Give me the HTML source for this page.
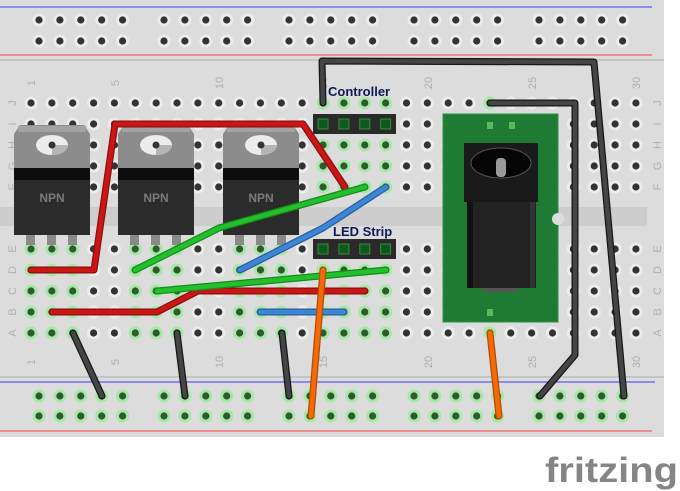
<!DOCTYPE html>
<html><head><meta charset="utf-8"><style>
html,body{margin:0;padding:0;background:#fff;width:680px;height:491px;overflow:hidden}
svg{display:block}
</style></head><body>
<svg id="s" width="680" height="491" viewBox="0 0 680 491" xmlns="http://www.w3.org/2000/svg" font-family="Liberation Sans, sans-serif">
<rect x="0" y="0" width="664" height="437" fill="#dcdcdc"/>
<line x1="0" y1="7" x2="652" y2="7" stroke="#3a3aff" stroke-width="1"/>
<line x1="0" y1="55" x2="652" y2="55" stroke="#ff4040" stroke-width="1"/>
<line x1="0" y1="60" x2="664" y2="60" stroke="#bdbdbd" stroke-width="1.5"/>
<line x1="0" y1="377" x2="664" y2="377" stroke="#bdbdbd" stroke-width="1.5"/>
<line x1="0" y1="382" x2="655" y2="382" stroke="#3a3aff" stroke-width="1"/>
<line x1="0" y1="431" x2="652" y2="431" stroke="#ff4040" stroke-width="1"/>
<rect x="0" y="207" width="647" height="19" fill="#cdcdcd"/>
<g id="holes"></g>
<g font-size="11" fill="#b0b0b0" text-anchor="middle">
<text transform="translate(35,83) rotate(-90)">1</text>
<text transform="translate(119,83) rotate(-90)">5</text>
<text transform="translate(223,83) rotate(-90)">10</text>
<text transform="translate(327,83) rotate(-90)">15</text>
<text transform="translate(432,83) rotate(-90)">20</text>
<text transform="translate(536,83) rotate(-90)">25</text>
<text transform="translate(640,83) rotate(-90)">30</text>
<text transform="translate(35,362) rotate(-90)">1</text>
<text transform="translate(119,362) rotate(-90)">5</text>
<text transform="translate(223,362) rotate(-90)">10</text>
<text transform="translate(327,362) rotate(-90)">15</text>
<text transform="translate(432,362) rotate(-90)">20</text>
<text transform="translate(536,362) rotate(-90)">25</text>
<text transform="translate(640,362) rotate(-90)">30</text>
</g>
<g id="letters" font-size="11" fill="#b0b0b0" text-anchor="middle"></g>

<g id="tr"></g>

<rect x="443" y="114" width="115" height="208" fill="#1f7b34" stroke="#2a9440" stroke-width="1"/>
<circle cx="558" cy="219" r="6" fill="#dcdcdc"/>
<rect x="487" y="122" width="6" height="7" fill="#5cb85c"/><rect x="509" y="122" width="6" height="7" fill="#5cb85c"/>
<rect x="487" y="309" width="6" height="7" fill="#5cb85c"/>
<rect x="464" y="143" width="74" height="59" fill="#1a1a1a"/>
<ellipse cx="501" cy="163" rx="30" ry="15" fill="#050505" stroke="#555" stroke-width="1"/>
<rect x="496" y="158" width="10" height="19" rx="4" fill="#9a9a9a"/>
<rect x="467" y="202" width="69" height="86" fill="#222"/>
<rect x="467" y="202" width="6" height="86" fill="#111"/>
<rect x="530" y="202" width="5" height="86" fill="#333"/>
<rect x="483" y="288" width="34" height="4" fill="#555"/>

<g id="hdr"></g>
<text x="328" y="96" font-size="13" font-weight="bold" fill="#0e1a55">Controller</text>
<text x="333" y="236" font-size="13" font-weight="bold" fill="#0e1a55">LED Strip</text>

<g id="wires" fill="none" stroke-linecap="round" stroke-linejoin="round"></g>

<text x="545" y="482" font-size="35" font-weight="bold" fill="#858585" textLength="133" lengthAdjust="spacingAndGlyphs">fritzing</text>
</svg>
<script>
var NS="http://www.w3.org/2000/svg";
function el(p,t,a){var e=document.createElementNS(NS,t);for(var k in a)e.setAttribute(k,a[k]);p.appendChild(e);return e;}
var H=document.getElementById('holes');
function cx(c){return 31+(c-1)*20.86;}
var rowsTop=[103,124,145,166,187],rowsBot=[249,270,291,312,333];
function hole(x,y,g){
 el(H,'circle',{cx:x,cy:y,r:6.5,fill:g?'#a6e8a6':'#ececec'});
 el(H,'circle',{cx:x,cy:y,r:3.6,fill:g?'#2f5a2f':'#333'});
}
for(var c=1;c<=30;c++){
 for(var r=0;r<5;r++){
  var gt=(c>=15&&c<=18)||(c==23&&r==0);
  hole(cx(c),rowsTop[r],gt);
  var gb=[1,2,3,6,7,8,11,12,13,15,16,17,18].indexOf(c)>=0||(c==23&&r==4);
  hole(cx(c),rowsBot[r],gb);
 }
}
var gs=[39,164,289,414,539];
gs.forEach(function(g){for(var i=0;i<5;i++){var x=g+i*20.9;
 hole(x,20,false);hole(x,41,false);hole(x,396,true);hole(x,416,true);}});
var L=document.getElementById('letters');
"JIHGF".split('').forEach(function(l,i){[12,657].forEach(function(x){var t=el(L,'text',{transform:'translate('+(x+4)+','+rowsTop[i]+') rotate(-90)'});t.textContent=l;});});
"EDCBA".split('').forEach(function(l,i){[12,657].forEach(function(x){var t=el(L,'text',{transform:'translate('+(x+4)+','+rowsBot[i]+') rotate(-90)'});t.textContent=l;});});
var T=document.getElementById('tr');
[14,118,223].forEach(function(x){
 for(var i=0;i<3;i++){var lx=x+12+i*21;el(T,'rect',{x:lx,y:233,width:9,height:12,fill:'#8a8a8a'});}
 el(T,'path',{d:'M'+(x+6)+',125 L'+(x+70)+',125 L'+(x+76)+',134 L'+(x+76)+',168 L'+x+',168 L'+x+',134 Z',fill:'#8c8c8c'});
 el(T,'rect',{x:x+4,y:126,width:68,height:6,fill:'#a3a3a3'});
 el(T,'ellipse',{cx:x+38,cy:145,rx:16,ry:10,fill:'#ececec'});
 el(T,'path',{d:'M'+(x+38)+',145 L'+(x+54)+',145 A16,10 0 0 1 '+(x+38)+',155 Z',fill:'#b5b5b5'});
 el(T,'circle',{cx:x+38,cy:145,r:3.5,fill:'#333'});
 el(T,'rect',{x:x,y:168,width:76,height:67,fill:'#2b2b2b'});
 el(T,'rect',{x:x,y:168,width:76,height:12,fill:'#0d0d0d'});
 var t=el(T,'text',{x:x+38,y:202,'font-size':12,'font-weight':'bold',fill:'#7a7a7a','text-anchor':'middle'});t.textContent='NPN';
});
var HD=document.getElementById('hdr');
[[114],[239]].forEach(function(a){var y=a[0];
 el(HD,'rect',{x:313,y:y,width:83,height:20,fill:'#2a2a2a'});
 for(var c=15;c<=18;c++){el(HD,'rect',{x:cx(c)-5,y:y+5,width:10,height:10,fill:'#0e5a1e',stroke:'#3a8a3a','stroke-width':1});}
});
var W=document.getElementById('wires');
function wire(pts,col,dark){var d='M'+pts.map(function(p){return p.join(',');}).join(' L');
 el(W,'path',{d:d,stroke:dark,'stroke-width':7});el(W,'path',{d:d,stroke:col,'stroke-width':4.5});}
var R=['#cc1515','#8c0e0e'],G=['#22c12b','#178a1c'],B=['#3d86d6','#285f9c'],K=['#454545','#161616'],O=['#f26a0a','#b54c00'];
wire([[31,270],[94,270],[115,124],[303,124],[345,187]],R[0],R[1]);
wire([[52,312],[157,312],[198,291],[365,291]],R[0],R[1]);
wire([[135,270],[219,228],[365,187]],G[0],G[1]);
wire([[157,291],[386,270]],G[0],G[1]);
wire([[240,270],[323,228],[386,187]],B[0],B[1]);
wire([[260,312],[344,312]],B[0],B[1]);
wire([[73,333],[102,396]],K[0],K[1]);
wire([[177,333],[185,396]],K[0],K[1]);
wire([[282,333],[289,396]],K[0],K[1]);
wire([[323,103],[322,61],[594,62],[624,396]],K[0],K[1]);
wire([[490,103],[575,103],[575,355],[540,396]],K[0],K[1]);
wire([[490,333],[499,416]],O[0],O[1]);
wire([[323,270],[311,416]],O[0],O[1]);
</script>
</body></html>
